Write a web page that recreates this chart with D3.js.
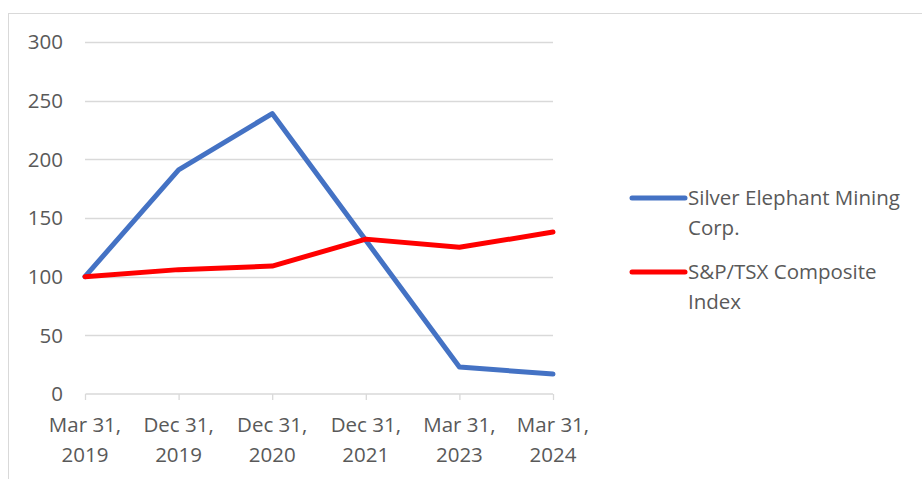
<!DOCTYPE html>
<html>
<head>
<meta charset="utf-8">
<script src="https://cdn.jsdelivr.net/npm/d3@7"></script>
<style>
  body { margin: 0; background: #fff; }
  text { font-family: "Open Sans", sans-serif; fill: #595959; }
</style>
</head>
<body>
<div id="chart"></div>
<script>
// data
const categories = [['Mar 31,', '2019'], ['Dec 31,', '2019'], ['Dec 31,', '2020'], ['Dec 31,', '2021'], ['Mar 31,', '2023'], ['Mar 31,', '2024']]
const silverElephant = [100, 191, 239, 131, 23, 17]
const spTsx = [100, 106, 109, 132, 125, 138]
const yTicks = [0, 50, 100, 150, 200, 250, 300]
const seriesNames = [['Silver Elephant Mining', 'Corp.'], ['S&P/TSX Composite', 'Index']]
const colors = ['#4472C4', '#FF0000']

const W = 922, H = 479
const margin = {top: 42, left: 85}
const width = 468, height = 352
const fs = '20.5px'

const svg = d3.select('#chart').append('svg')
  .attr('width', W)
  .attr('height', H)

// chart area border
svg.append('rect')
  .attr('x', 8.5).attr('y', 13.5)
  .attr('width', W).attr('height', H)
  .attr('fill', 'none')
  .attr('stroke', '#d9d9d9')

const g = svg.append('g')
  .attr('transform', `translate(${margin.left},${margin.top})`)

const x = d3.scalePoint().domain(d3.range(categories.length)).range([0, width])
const y = d3.scaleLinear().domain([0, 300]).range([height, 0])

// gridlines
g.append('g')
  .selectAll('line')
  .data(yTicks.filter(d => d > 0))
  .join('line')
    .attr('x1', 0).attr('x2', width)
    .attr('y1', d => Math.round(y(d)) + 0.5)
    .attr('y2', d => Math.round(y(d)) + 0.5)
    .attr('stroke', '#d9d9d9')
    .attr('stroke-width', 1.3)

// y labels
g.append('g')
  .selectAll('text')
  .data(yTicks)
  .join('text')
    .attr('x', -22)
    .attr('y', d => y(d))
    .attr('dy', '0.35em')
    .attr('text-anchor', 'end')
    .style('font-size', fs)
    .text(d => d)

// x axis
const xAxis = g.append('g')
  .attr('transform', `translate(0,${height})`)
  .call(d3.axisBottom(x).tickSize(6).tickFormat(''))
xAxis.select('.domain').attr('stroke', '#d9d9d9').attr('stroke-width', 1.3).attr('d', `M0.5,0H${width}`)
xAxis.selectAll('.tick line').attr('stroke', '#d9d9d9').attr('stroke-width', 1.3)

const xl = g.append('g')
  .selectAll('text')
  .data(categories)
  .join('text')
    .attr('x', (d, i) => x(i))
    .attr('y', height + 38)
    .attr('text-anchor', 'middle')
    .style('font-size', fs)
xl.append('tspan').attr('x', (d, i) => x(i)).text(d => d[0])
xl.append('tspan').attr('x', (d, i) => x(i)).attr('dy', 30).text(d => d[1])

// lines
const line = d3.line()
  .x((d, i) => x(i))
  .y(d => y(d))

g.selectAll('path.series')
  .data([silverElephant, spTsx])
  .join('path')
    .attr('class', 'series')
    .attr('d', line)
    .attr('fill', 'none')
    .attr('stroke', (d, i) => colors[i])
    .attr('stroke-width', 5)
    .attr('stroke-linejoin', 'round')
    .attr('stroke-linecap', 'round')

// legend
const legend = svg.append('g')
  .selectAll('g')
  .data(seriesNames)
  .join('g')
    .attr('transform', (d, i) => `translate(632,${198 + i * 74})`)

legend.append('line')
  .attr('x1', 0).attr('x2', 53)
  .attr('stroke', (d, i) => colors[i])
  .attr('stroke-width', 5)
  .attr('stroke-linecap', 'round')

const lt = legend.append('text')
  .attr('x', 56)
  .attr('y', 0)
  .attr('dy', '0.35em')
  .style('font-size', fs)
lt.append('tspan').attr('x', 56).text(d => d[0])
lt.append('tspan').attr('x', 56).attr('dy', 30).text(d => d[1])
</script>
</body>
</html>
